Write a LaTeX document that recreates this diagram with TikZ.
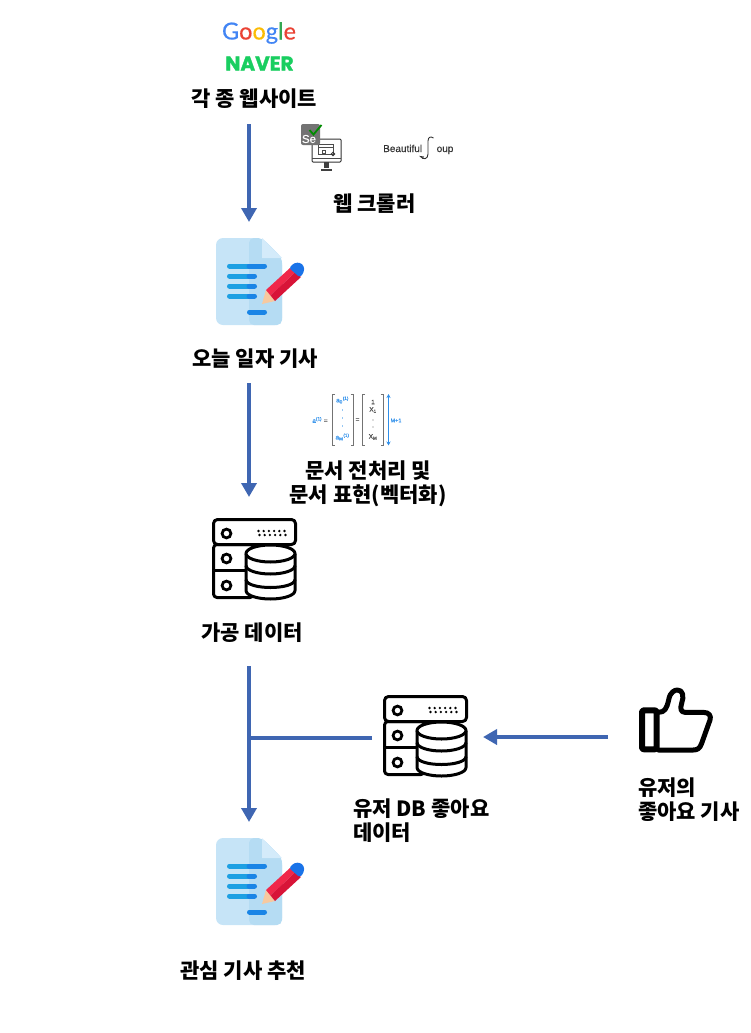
\documentclass[tikz,border=0pt]{standalone}
\usepackage{fontspec}
\setmainfont{Noto Sans CJK KR}
\newfontfamily\logofont[FakeBold=.4]{Lato}
\newfontfamily\naverfont[FakeBold=1.5]{Poppins Bold}
\newfontfamily\soupfont[FakeBold=.3]{Liberation Sans}
\newfontfamily\mathfnt[FakeBold=.3]{Liberation Sans}
\usetikzlibrary{arrows.meta}
\definecolor{flowblue}{HTML}{3F66B2}
\definecolor{docbody}{HTML}{C6E4F7}
\definecolor{docshade}{HTML}{B5DCF3}
\definecolor{docfold}{HTML}{D4EBFA}
\definecolor{doclineA}{HTML}{1EA0E3}
\definecolor{doclineB}{HTML}{1A85E6}
\definecolor{pencilA}{HTML}{F0284A}
\definecolor{pencilB}{HTML}{D81438}
\definecolor{pencilC}{HTML}{1A73E8}
\definecolor{pencilD}{HTML}{F7C9A0}
\definecolor{matblue}{HTML}{2E8FEA}
\definecolor{gblue}{HTML}{4285F4}
\definecolor{gred}{HTML}{EA4335}
\definecolor{gyellow}{HTML}{FBBC05}
\definecolor{ggreen}{HTML}{34A853}
\definecolor{navergreen}{HTML}{19CE60}
\tikzset{
  x=1pt,y=-1pt,
  flowline/.style={draw=flowblue,line width=4.4pt},
  flowarrow/.style={flowline,-{Triangle[width=15pt,length=14pt]}},
  label/.style={font=\fontsize{21}{24}\selectfont\bfseries,inner sep=0pt,text=black,align=center},
  labelleft/.style={label,align=left,anchor=west},
  iconline/.style={draw=black,line width=3pt,line join=round,fill=white},
  docrow/.style={line width=5pt,line cap=round},
  matrixbar/.style={draw=black!55,line width=.8pt},
  mtxt/.style={font=\mathfnt\fontsize{6.5}{7}\selectfont,inner sep=0pt},
  pics/docicon/.style={code={
    \fill[docbody,rounded corners=7pt] (0,0) -- (46,0) -- (66,20) -- (66,87) -- (0,87) -- cycle;
    \fill[docshade,rounded corners=5pt] (33,0) -- (46,0) -- (66,20) -- (66,87) -- (33,87) -- cycle;
    \fill[docfold] (46,0) -- (66,20) -- (46,20) -- cycle;
    \foreach \yy/\xe in {28/48.5,38/38.5,48/38.5,58/38.5}{
      \draw[docrow,doclineA] (13.5,\yy) -- (33,\yy);
      \draw[docrow,doclineB] (33,\yy) -- (\xe,\yy);
    }
    \draw[docrow,doclineB] (33.5,74) -- (48.5,74);
    \fill[pencilD] (50,52) -- (59,63) -- (46,66) -- cycle;
    \fill[pencilA] (50,52) -- (74,30) -- (79,34.5) -- (54.5,57.5) -- cycle;
    \fill[pencilB] (54.5,57.5) -- (79,34.5) -- (85,39) -- (59,63) -- cycle;
    \fill[pencilC,rounded corners=2.5pt] (73,30) -- (78,25) -- (84,24.5) -- (88,28) -- (88,34) -- (84,39.5) -- cycle;
  }},
  pics/servericon/.style={code={
    \draw[iconline,rounded corners=3.5pt] (0,25) rectangle (40,78);
    \draw[iconline,rounded corners=3.5pt] (0,51) -- (40,51);
    \draw[iconline,rounded corners=4pt] (0,0) rectangle (82,25);
    \foreach \yy in {14,39,66}{\draw[draw=black,line width=2.8pt] (13,\yy) circle[radius=4.4];}
    \foreach \xx in {45,50.2,55.4,60.6,65.8,71}{\fill (\xx,11.5) circle[radius=1.3];}
    \foreach \xx in {46,51.2,56.4,61.6,66.8,72}{\fill (\xx,15.5) circle[radius=1.3];}
    \draw[iconline] (32.5,34) -- (32.5,71) .. controls (32.5,76) and (44,79.5) .. (57,79.5)
       .. controls (70,79.5) and (81.5,76) .. (81.5,71) -- (81.5,34);
    \draw[iconline] (57,34) ellipse[x radius=24.5,y radius=8.5];
    \draw[draw=black,line width=3pt] (32.5,46) .. controls (32.5,51) and (44,54.5) .. (57,54.5) .. controls (70,54.5) and (81.5,51) .. (81.5,46);
    \draw[draw=black,line width=3pt] (32.5,60) .. controls (32.5,65) and (44,68) .. (57,68) .. controls (70,68) and (81.5,65) .. (81.5,60);
  }},
  pics/bracketpair/.style={code={
    \draw[matrixbar] (3,0) -- (0,0) -- (0,51) -- (3,51);
    \draw[matrixbar] (18.5,0) -- (21.5,0) -- (21.5,51) -- (18.5,51);
  }},
}
\begin{document}
\begin{tikzpicture}
\useasboundingbox (0,0) rectangle (750,1033);

% logos
\node[inner sep=0pt,font=\logofont\fontsize{23.5}{26}\selectfont] (google) at (259,33)
  {\textcolor{gblue}{G}\textcolor{gred}{o}\textcolor{gyellow}{o}\textcolor{gblue}{g}\textcolor{ggreen}{l}\textcolor{gred}{e}};
\node[inner sep=0pt,text=navergreen,font=\naverfont\fontsize{20}{22}\selectfont] (naver) at (259.5,63.5) {NAVER};

% labels
\node[label] (sites) at (254.5,98.5) {각 종 웹사이트};
\node[label] (crawler) at (374.5,203.5) {웹 크롤러};
\node[label] (today) at (255,358.5) {오늘 일자 기사};
\node[label] (prep) at (368,484) {문서 전처리 및\\문서 표현(벡터화)};
\node[label] (proc) at (252,632.5) {가공 데이터};
\node[labelleft] (userdb) at (353,821) {유저 DB 좋아요\\데이터};
\node[labelleft] (userlike) at (638,799.5) {유저의\\좋아요 기사};
\node[label] (rec) at (243,970.5) {관심 기사 추천};

% selenium icon
\begin{scope}[shift={(312,139)}]
  \draw[draw=black!80,line width=1pt,fill=white,rounded corners=1pt] (0,0) rectangle (29,23);
  \draw[draw=black!70,line width=.9pt] (0,19) -- (29,19);
  \draw[draw=black!70,line width=.8pt] (6,5) rectangle (21,15);
  \draw[draw=black!70,line width=.6pt] (6,8) -- (21,8);
  \draw[draw=black!70,line width=.6pt] (10,11) rectangle (13,14);
  \draw[draw=black!80,line width=.8pt] (21,15) circle[radius=1.8];
  \fill[black!75] (12,23) rectangle (17,29);
  \draw[draw=black!75,line width=1.2pt] (9,31) -- (20,31);
\end{scope}
\fill[black!55,rounded corners=2pt] (301,124) rectangle (320,145);
\node[inner sep=0pt,text=white,font=\soupfont\fontsize{11.5}{12}\selectfont] (senode) at (309,139) {Se};
\draw[draw=green!55!black,line width=1.8pt] (309.5,130) -- (313.5,134.5) -- (321.5,125);

% beautiful soup logo
\node[inner sep=0pt,anchor=base west,text=black!80,font=\soupfont\fontsize{10}{10}\selectfont] (beautiful) at (383,152) {Beautiful};
\node[inner sep=0pt,anchor=base west,text=black!80,font=\soupfont\fontsize{10}{10}\selectfont] (oup) at (436.5,152) {oup};
\draw[draw=black!80,line width=.9pt] (433.5,138) .. controls (431,136) and (428,137) .. (428,141) -- (428,154)
  .. controls (428,159.5) and (423,160) .. (420.5,156.5) -- (424,157);

% matrix image
\node[mtxt,text=matblue] (avec) at (320,420) {a\textsuperscript{(1)} \textcolor{black!60}{=}};
\pic at (332,394) {bracketpair};
\pic at (362,394) {bracketpair};
\node[mtxt,text=matblue] (a0) at (342.5,400) {a\textsubscript{0}\textsuperscript{(1)}};
\node[mtxt,text=matblue] (aM) at (342.5,437) {a\textsubscript{M}\textsuperscript{(1)}};
\node[mtxt,text=matblue] (d1) at (342.5,410) {.};
\node[mtxt,text=matblue] (d2) at (342.5,418) {.};
\node[mtxt,text=matblue] (d3) at (342.5,426) {.};
\node[mtxt,text=black!65] (eqq) at (357.5,420) {=};
\node[mtxt,text=black!70] (x0) at (373,402) {1};
\node[mtxt,text=black!70] (x1) at (373,410) {X\textsubscript{1}};
\node[mtxt,text=black!70] (x2) at (373,420) {.};
\node[mtxt,text=black!70] (x3) at (373,427) {.};
\node[mtxt,text=black!70] (xM) at (373,437) {X\textsubscript{M}};
\coordinate (dimtop) at (388.5,394);
\coordinate (dimbot) at (388.5,445.5);
\draw[draw=matblue,line width=.7pt,{Stealth[length=4pt,width=4pt]}-{Stealth[length=4pt,width=4pt]}] (dimtop) -- (dimbot);
\node[mtxt,text=matblue,font=\mathfnt\fontsize{5.5}{6}\selectfont] (mp) at (396,420.5) {M+1};

% doc and server icons
\pic at (216,238) {docicon};
\pic at (216,838) {docicon};
\pic at (213.5,519.5) {servericon};
\pic at (384.5,696.5) {servericon};

% thumb icon
\begin{scope}[shift={(620,680)},x=.3333pt,y=-.3333pt]
  \draw[draw=black,line width=6pt,line join=round,rounded corners=2pt] (66,91) rectangle (110,208);
  \draw[draw=black,line width=5pt,line join=round,line cap=round]
    (115,97) .. controls (135,97) and (140,85) .. (146,60)
    .. controls (150,35) and (165,30) .. (172,30)
    .. controls (190,30) and (192,50) .. (185,70)
    .. controls (180,85) and (182,97) .. (195,97)
    -- (250,97) .. controls (268,97) and (274,108) .. (270,120)
    -- (245,190) .. controls (240,205) and (232,210) .. (220,210) -- (115,210);
\end{scope}

% connectors
\coordinate (a1s) at (249,124);   \coordinate (a1e) at (249,222);
\coordinate (a2s) at (249,383);   \coordinate (a2e) at (249,497);
\coordinate (a3s) at (249,666);   \coordinate (a3e) at (249,822);
\coordinate (bjoin) at (249,738); \coordinate (bend) at (372,738);
\coordinate (a4s) at (608,737);   \coordinate (a4e) at (483,737);
\draw[flowarrow] (a1s) -- (a1e);
\draw[flowarrow] (a2s) -- (a2e);
\draw[flowarrow] (a3s) -- (a3e);
\draw[flowline] (bend) -- (bjoin);
\draw[flowarrow] (a4s) -- (a4e);
\end{tikzpicture}
\end{document}
